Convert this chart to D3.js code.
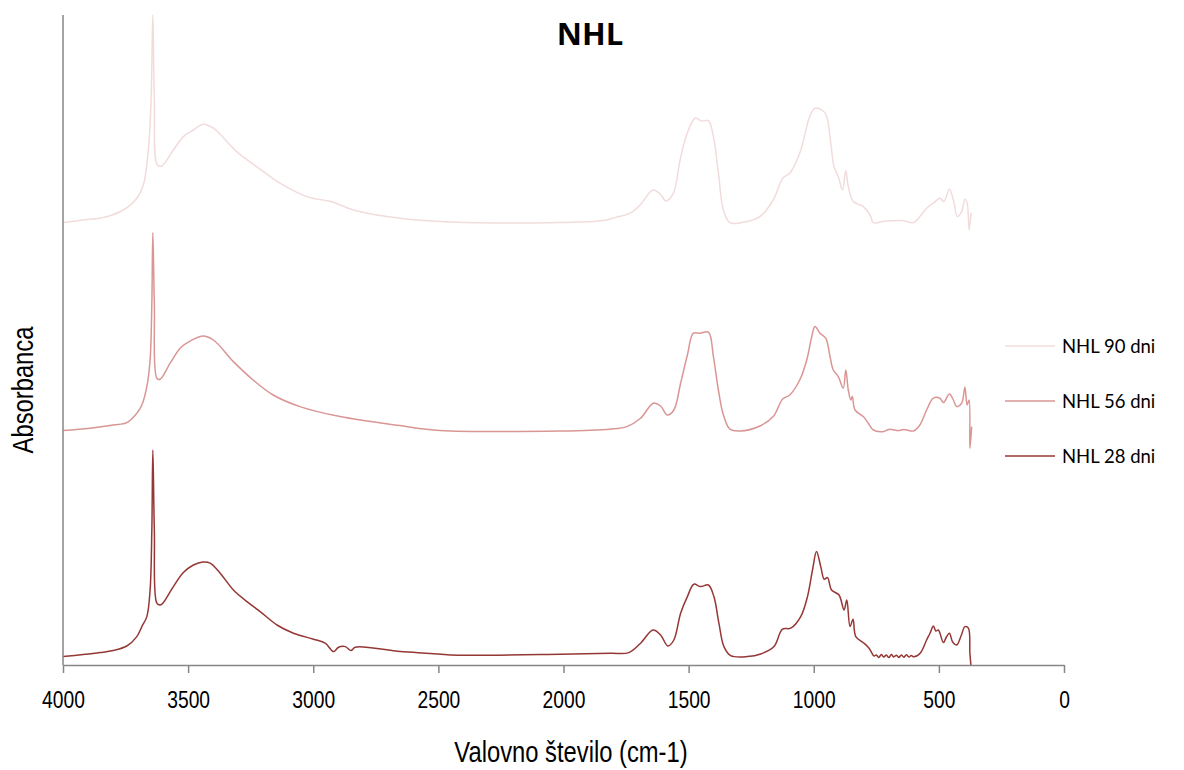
<!DOCTYPE html>
<html>
<head>
<meta charset="utf-8">
<script src="https://cdn.jsdelivr.net/npm/d3@7/dist/d3.min.js"></script>
<style>
  html, body { margin: 0; padding: 0; background: #fff; }
  svg { display: block; }
</style>
</head>
<body>
<svg id="chart" width="1184" height="770"></svg>
<script>
// FTIR spectra of NHL mortar at three curing ages (offset for readability)
const wn28 = [4000,3920,3852,3800,3745,3705,3685,3665,3652,3645,3641,3635,3625,3612,3599,3559,3519,3479,3441,3412,3372,3319,3265,3212,3145,3079,2999,2952,2919,2899,2872,2849,2832,2652,2532,2452,2012,1812,1739,1692,1642,1612,1583,1559,1532,1505,1479,1452,1421,1399,1379,1359,1332,1265,1212,1159,1125,1092,1052,1025,1005,989,972,958,945,929,899,879,868,855,843,832,799,779,759,750,740,730,720,710,700,690,680,670,660,650,640,630,620,610,602,575,549,535,522,512,502,482,470,458,445,429,410,396,382,376,372];
const abs28 = [0.042,0.052,0.062,0.072,0.095,0.142,0.192,0.242,0.375,0.675,1.075,0.675,0.309,0.300,0.312,0.392,0.462,0.500,0.515,0.509,0.459,0.375,0.317,0.267,0.200,0.159,0.129,0.109,0.067,0.089,0.092,0.072,0.089,0.067,0.058,0.050,0.054,0.059,0.062,0.109,0.175,0.150,0.095,0.125,0.259,0.342,0.404,0.392,0.400,0.342,0.209,0.092,0.047,0.042,0.055,0.092,0.179,0.184,0.242,0.342,0.475,0.567,0.492,0.429,0.437,0.375,0.350,0.275,0.325,0.192,0.229,0.142,0.109,0.084,0.045,0.050,0.038,0.052,0.040,0.050,0.037,0.052,0.040,0.049,0.038,0.050,0.039,0.051,0.040,0.048,0.041,0.059,0.125,0.160,0.195,0.170,0.175,0.112,0.140,0.159,0.115,0.100,0.150,0.192,0.184,0.059,0.000];

const wn56 = [3999,3892,3799,3745,3705,3685,3665,3652,3645,3641,3635,3625,3612,3572,3532,3506,3442,3399,3319,3240,3160,3053,2893,2653,2494,2014,1814,1747,1692,1641,1612,1585,1559,1532,1505,1481,1455,1421,1401,1381,1361,1335,1295,1215,1162,1124,1096,1056,1028,1008,995,975,952,935,922,902,882,872,862,852,846,835,802,782,762,720,700,660,640,602,576,549,522,496,482,458,442,429,409,396,387,379,376,369];
const abs56 = [1.172,1.184,1.200,1.212,1.259,1.300,1.392,1.525,1.809,2.162,1.809,1.434,1.429,1.509,1.584,1.609,1.645,1.625,1.517,1.425,1.350,1.292,1.242,1.197,1.173,1.170,1.179,1.192,1.234,1.309,1.295,1.250,1.275,1.409,1.550,1.659,1.659,1.664,1.542,1.375,1.250,1.179,1.170,1.195,1.242,1.330,1.350,1.425,1.525,1.642,1.692,1.659,1.634,1.542,1.475,1.442,1.384,1.475,1.375,1.325,1.342,1.275,1.242,1.209,1.175,1.168,1.178,1.172,1.178,1.170,1.200,1.275,1.334,1.334,1.312,1.355,1.325,1.292,1.309,1.389,1.300,1.325,1.084,1.192];

const wn90 = [3996,3919,3839,3759,3705,3679,3659,3648,3641,3635,3623,3606,3559,3519,3479,3439,3399,3306,3226,3133,3026,2920,2840,2653,2453,2014,1841,1794,1734,1694,1643,1614,1590,1561,1534,1508,1474,1448,1421,1401,1381,1361,1335,1288,1215,1162,1124,1096,1056,1016,995,962,948,932,919,902,885,872,862,842,802,775,762,711,647,602,576,549,522,496,480,458,442,426,409,396,387,379,372];
const abs90 = [2.212,2.225,2.237,2.275,2.334,2.400,2.575,2.825,3.250,2.825,2.500,2.495,2.575,2.642,2.675,2.704,2.684,2.567,2.492,2.409,2.342,2.314,2.275,2.234,2.215,2.212,2.222,2.237,2.259,2.300,2.375,2.355,2.320,2.359,2.525,2.650,2.734,2.720,2.722,2.642,2.459,2.275,2.212,2.212,2.242,2.325,2.434,2.459,2.559,2.742,2.784,2.770,2.742,2.609,2.492,2.442,2.375,2.472,2.392,2.317,2.292,2.250,2.212,2.220,2.222,2.212,2.242,2.284,2.309,2.334,2.317,2.379,2.325,2.242,2.267,2.329,2.309,2.175,2.262];

const seriesNames = ["NHL 90 dni", "NHL 56 dni", "NHL 28 dni"];
const seriesColors = ["#f2dcdb", "#d99694", "#953735"];
const xTicks = [4000, 3500, 3000, 2500, 2000, 1500, 1000, 500, 0];

const series = [
  { name: seriesNames[0], color: seriesColors[0], wn: wn90, abs: abs90 },
  { name: seriesNames[1], color: seriesColors[1], wn: wn56, abs: abs56 },
  { name: seriesNames[2], color: seriesColors[2], wn: wn28, abs: abs28 }
];

const svg = d3.select("#chart");
const plot = { left: 63, right: 1064, top: 15, bottom: 665 };
// condensed sans for axis text: Arial squeezed horizontally
const narrowFont = "Arial";
const squeeze = "scale(0.82,1)";

const x = d3.scaleLinear().domain([4000, 0]).range([plot.left, plot.right]);
const y = d3.scaleLinear().domain([0, 3.25]).range([plot.bottom, plot.top]);

// spectra, bottom one drawn last so it sits on top
const line = d3.line()
  .x(d => x(d[0]))
  .y(d => y(d[1]))
  .curve(d3.curveCatmullRom.alpha(0.5));
series.slice().reverse().forEach(s => {
  const pts = s.wn.map((w, i) => [w, s.abs[i]]);
  svg.append("path")
    .datum(pts)
    .attr("fill", "none")
    .attr("stroke", s.color)
    .attr("stroke-width", 1.5)
    .attr("stroke-linejoin", "round")
    .attr("d", line);
});

// axes
const axisColor = "#868686";
svg.append("line")
  .attr("x1", plot.left).attr("x2", plot.left)
  .attr("y1", plot.top).attr("y2", plot.bottom)
  .attr("stroke", axisColor).attr("stroke-width", 1.5);

const xAxis = svg.append("g")
  .attr("transform", `translate(0,${plot.bottom})`)
  .call(d3.axisBottom(x).tickValues(xTicks).tickFormat(d3.format("d"))
    .tickSize(8).tickPadding(18).tickSizeOuter(0));
xAxis.select(".domain").attr("stroke", axisColor).attr("stroke-width", 1.5);
xAxis.selectAll(".tick line").attr("stroke", axisColor).attr("stroke-width", 1.5);
xAxis.selectAll(".tick text")
  .attr("fill", "#000")
  .attr("font-family", narrowFont)
  .attr("font-size", 23.5)
  .attr("transform", squeeze);

// titles
svg.append("text")
  .attr("x", 590).attr("y", 45)
  .attr("text-anchor", "middle")
  .attr("font-family", "Open Sans")
  .attr("font-weight", "bold")
  .attr("font-size", 31)
  .text("NHL");

svg.append("g")
  .attr("transform", "translate(571,762)")
  .append("text")
  .attr("transform", squeeze)
  .attr("text-anchor", "middle")
  .attr("font-family", narrowFont)
  .attr("font-size", 29)
  .text("Valovno število (cm-1)");

svg.append("g")
  .attr("transform", "translate(33,390) rotate(-90)")
  .append("text")
  .attr("transform", squeeze)
  .attr("text-anchor", "middle")
  .attr("font-family", narrowFont)
  .attr("font-size", 29)
  .text("Absorbanca");

// legend
const legend = svg.append("g").attr("transform", "translate(1005,346)");
series.forEach((s, i) => {
  const g = legend.append("g").attr("transform", `translate(0,${i * 55})`);
  g.append("line")
    .attr("x1", 0).attr("x2", 50)
    .attr("stroke", s.color).attr("stroke-width", 1.5);
  g.append("text")
    .attr("x", 57).attr("y", 7)
    .attr("font-family", "Lato")
    .attr("font-size", 18.5)
    .text(s.name);
});
</script>
</body>
</html>
